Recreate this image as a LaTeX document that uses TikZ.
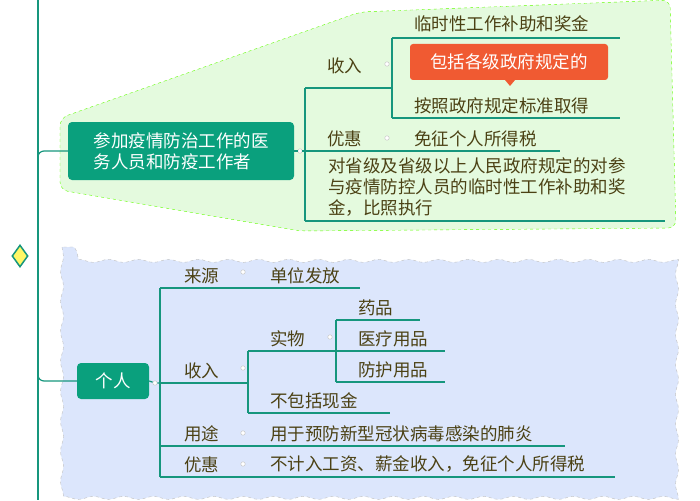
\documentclass[tikz,border=0pt]{standalone}
\usepackage{fontspec}
\setmainfont{Noto Sans CJK SC}
\usetikzlibrary{positioning,calc,shapes.geometric,decorations.pathmorphing}
\definecolor{linegreen}{RGB}{22,150,125}
\definecolor{boxgreen}{RGB}{10,160,125}
\definecolor{textbrown}{RGB}{75,65,20}
\definecolor{areagreen}{RGB}{228,250,222}
\definecolor{areablue}{RGB}{220,230,252}
\definecolor{noteorange}{RGB}{240,90,50}
\tikzset{
	every node/.style={font=\fontsize{17.5}{21}\selectfont,text=textbrown},
	main topic/.style={rectangle,rounded corners=4pt,fill=boxgreen,text=white,align=left,inner sep=6pt},
	leaf/.style={anchor=south west,inner sep=2pt},
	fold/.style={circle,draw=gray!50,fill=white,inner sep=1.6pt,font=\tiny},
	link/.style={draw=linegreen,line width=1.2pt}
}
\begin{document}
\begin{tikzpicture}[x=1pt,y=-1pt]
	\useasboundingbox (0,0) rectangle (700,500);
	% areas
	\fill[areagreen,draw=green!50!lime,dashed,rounded corners=8pt]
		(60,118) -- (360,12) -- (670,0) -- (676,228) -- (300,231) -- (60,190) -- cycle;
	\fill[areablue,draw=gray!50,dashed,decorate,decoration={snake,amplitude=1.5pt,segment length=30pt}]
		(62,247) rectangle (680,490);
	% trunk
	\draw[link] (38,0) -- (38,500);
	\node[diamond,draw=linegreen,fill=yellow!60,line width=1.5pt,minimum width=16pt,minimum height=22pt,inner sep=0pt] (root) at (20,256) {};
	% first topic
	\node[main topic,minimum width=226pt,minimum height=58pt,inner xsep=14pt] (staff) at (181,151) {参加疫情防治工作的医\\务人员和防疫工作者};
	\draw[link,rounded corners=6pt] (38,170) |- (staff.west);
	\node[fold] (f1) at (300,151) {};
	\draw[link] (staff.east) -- (f1) -- (305,151);
	\draw[link] (305,88) -- (305,221);
	\node[leaf] (inc1) at (325,76) {收入};
	\node[fold] (f2) at (387,64) {};
	\draw[link] (305,88) -- (392,88);
	\draw[link] (392,38) -- (392,118);
	\node[leaf] (sub1) at (412,34) {临时性工作补助和奖金};
	\draw[link] (392,38) -- (620,38);
	\node[rectangle,rounded corners=3pt,fill=noteorange,text=white,minimum width=198pt,minimum height=36pt] (note) at (509,62) {包括各级政府规定的};
	\fill[noteorange] (505,80) -- (515,80) -- (510,86) -- cycle;
	\node[leaf] (sub2) at (412,116) {按照政府规定标准取得};
	\draw[link] (392,118) -- (620,118);
	\node[leaf] (pref1) at (325,149) {优惠};
	\node[fold] (f3) at (387,138) {};
	\node[leaf] (exempt1) at (412,149) {免征个人所得税};
	\draw[link] (305,151) -- (560,151);
	\node[leaf,align=left,anchor=north west] (ref1) at (326,155) {对省级及省级以上人民政府规定的对参\\与疫情防控人员的临时性工作补助和奖\\金，比照执行};
	\draw[link] (305,221) -- (665,221);
	% second topic
	\node[main topic,minimum width=72pt,minimum height=36pt,align=center] (person) at (113,381) {个人};
	\draw[link,rounded corners=6pt] (38,360) |- (person.west);
	\node[fold] (f4) at (155,383) {};
	\draw[link] (person.east) -- (f4) -- (160,383);
	\draw[link] (160,288) -- (160,477);
	\node[leaf] (src) at (182,286) {来源};
	\node[fold] (f5) at (243,272) {};
	\node[leaf] (unit) at (268,286) {单位发放};
	\draw[link] (160,288) -- (360,288);
	\node[leaf] (inc2) at (182,381) {收入};
	\node[fold] (f6) at (243,368) {};
	\draw[link] (160,383) -- (248,383);
	\draw[link] (248,351) -- (248,413);
	\node[leaf] (goods) at (268,349) {实物};
	\node[fold] (f7) at (330,337) {};
	\draw[link] (248,351) -- (336,351);
	\draw[link] (336,320) -- (336,382);
	\node[leaf] (med) at (356,318) {药品};
	\draw[link] (336,320) -- (420,320);
	\node[leaf] (medsup) at (356,349) {医疗用品};
	\draw[link] (336,351) -- (445,351);
	\node[leaf] (protect) at (356,380) {防护用品};
	\draw[link] (336,382) -- (445,382);
	\node[leaf] (nocash) at (268,411) {不包括现金};
	\draw[link] (248,413) -- (390,413);
	\node[leaf] (use) at (182,444) {用途};
	\node[fold] (f8) at (243,433) {};
	\node[leaf] (usetxt) at (268,444) {用于预防新型冠状病毒感染的肺炎};
	\draw[link] (160,446) -- (565,446);
	\node[leaf] (pref2) at (182,475) {优惠};
	\node[fold] (f9) at (243,464) {};
	\node[leaf] (exempt2) at (268,475) {不计入工资、薪金收入，免征个人所得税};
	\draw[link] (160,477) -- (615,477);
\end{tikzpicture}
\end{document}
